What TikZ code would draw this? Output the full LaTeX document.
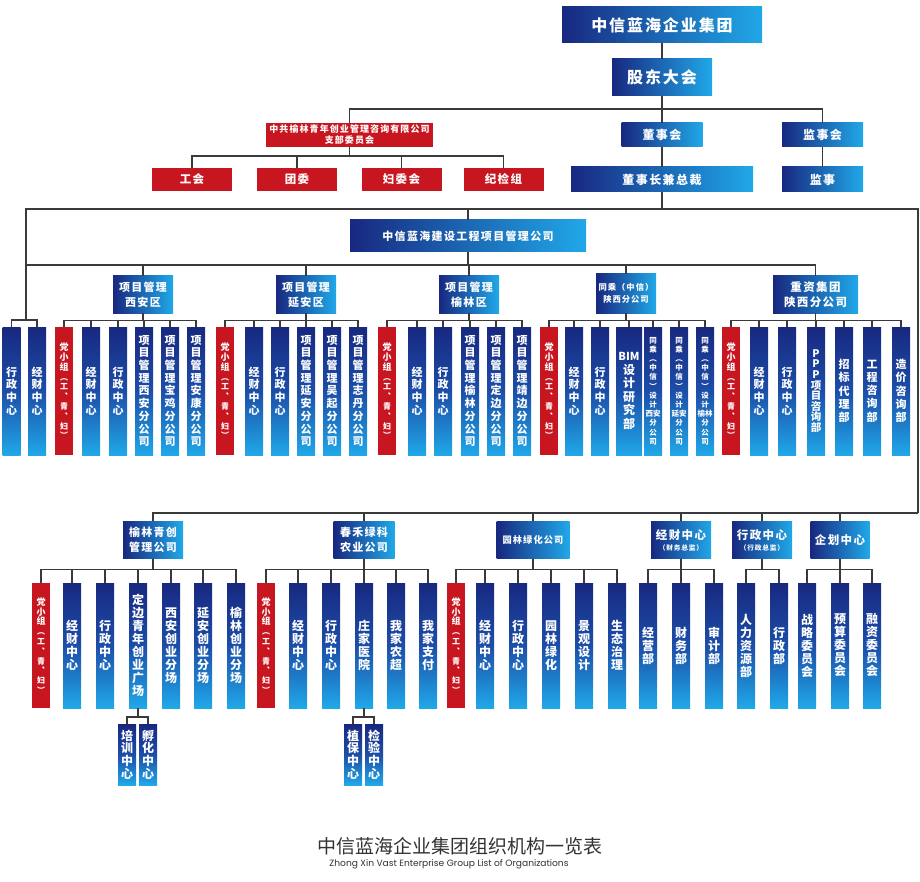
\documentclass[tikz,border=0pt]{standalone}
\usepackage{fontspec}
\newfontfamily\cjk{Noto Sans CJK SC}
\newfontfamily\cjks{Noto Sans CJK SC}[LetterSpace=12]
\newfontfamily\enfont{Poppins}
\definecolor{bd}{RGB}{24,40,128}
\definecolor{bm}{RGB}{28,78,168}
\definecolor{bl}{RGB}{32,168,232}
\definecolor{rd}{RGB}{200,22,32}
\definecolor{ln}{RGB}{58,58,58}
\definecolor{tt}{RGB}{50,50,50}

% 竖排文字：每个字（或花括号组）占一行
\let\vtend\relax
\newcommand\vt[1]{\expandafter\vtgo\expandafter{#1}}
\newcommand\vtgo[1]{\vbox{\lineskiplimit=-\maxdimen\vtstep#1\vtend}}
\newcommand\vtstep[1]{\ifx\vtend#1\else\hbox to 0pt{\hss#1\hss}\expandafter\vtstep\fi}
\newcommand\smr{\fontsize{8}{8}\selectfont}
\newcommand\dxz{党小组{\smr ︵}{\smr 工}{\smr ︑}{\smr 青}{\smr ︑}{\smr 妇}{\smr ︶}}
\newcommand\bfs[2]{\cjks\bfseries\fontsize{#1}{#2}\selectfont}

\tikzset{
  link/.style={draw=ln, line width=1.4pt},
  hbar/.style={left color=bd, right color=bl, text=white, inner sep=0pt, align=center},
  rbar/.style={fill=rd, text=white, inner sep=0pt, align=center},
  vcol/.style={top color=bd, bottom color=bl, middle color=bm, text=white, inner sep=0pt, minimum width=18pt},
  topcol/.style={vcol, minimum height=128pt, font=\cjk\bfseries\fontsize{11}{12.7}\selectfont},
  tccol/.style={vcol, minimum height=128pt, font=\cjk\bfseries\fontsize{7.5}{9.2}\selectfont},
  botcol/.style={vcol, minimum height=125pt, font=\cjk\bfseries\fontsize{12}{13}\selectfont},
  subcol/.style={vcol, minimum height=61pt, font=\cjk\bfseries\fontsize{12}{12.6}\selectfont},
  rcol/.style={fill=rd, text=white, inner sep=0pt, minimum width=18pt, font=\cjk\bfseries\fontsize{9}{9.8}\selectfont},
}

\begin{document}
\begin{tikzpicture}[x=1pt, y=-1pt]
  \useasboundingbox (0,0) rectangle (920,882);

  % --- 集团 / 股东大会 / 董事会 ---
  \node[hbar, minimum width=200pt, minimum height=36pt, font=\bfs{16}{16}] (grp) at (662,25) {中信蓝海企业集团};
  \node[hbar, minimum width=100pt, minimum height=37pt, font=\bfs{16}{16}] (gd) at (662,77.5) {股东大会};
  \node[hbar, minimum width=81pt, minimum height=24pt, font=\bfs{12}{12}] (dsh) at (662,135) {董事会};
  \node[hbar, minimum width=81pt, minimum height=24pt, font=\bfs{12}{12}] (jsh) at (822.5,135) {监事会};
  \node[hbar, minimum width=182pt, minimum height=25pt, font=\bfs{12}{12}] (dz) at (662,179.5) {董事长兼总裁};
  \node[hbar, minimum width=81pt, minimum height=25pt, font=\bfs{12}{12}] (js) at (822.5,179.5) {监事};
  \coordinate (gdb) at (662,109);
  \draw[link] (grp.south) -- (gd.north);
  \draw[link] (gd.south) -- (gdb);
  \draw[link] (gdb) -- (dsh.north);
  \draw[link] (gdb) -| (jsh.north);
  \draw[link] (dsh.south) -- (dz.north);
  \draw[link] (jsh.south) -- (js.north);

  % 党支部 (红色)
  \node[rbar, minimum width=167pt, minimum height=24pt, font=\bfs{9}{11}] (dw) at (349.5,135) {中共榆林青年创业管理咨询有限公司\\支部委员会};
  \coordinate (dwb) at (349.5,156);
  \foreach \i/\x/\lbl in {1/192/工会,2/297/团委,3/401.5/妇委会,4/503.5/纪检组}
    \node[rbar, minimum width=80pt, minimum height=23pt, font=\bfs{11.5}{12}] (dw\i) at (\x,179.5) {\lbl};
  \draw[link] (gdb) -| (dw.north);
  \draw[link] (dw.south) -- (dwb);
  \foreach \i in {1,...,4} \draw[link] (dwb) -| (dw\i.north);

  % --- 董事长兼总裁以下 ---
  \coordinate (dzb) at (662,209);
  \coordinate (lb) at (26,320);
  \coordinate (rb) at (918,513);
  \node[hbar, minimum width=236pt, minimum height=32pt, font=\bfs{11}{11}] (jsgs) at (468,236) {中信蓝海建设工程项目管理公司};
  \draw[link] (dz.south) -- (dzb);
  \draw[link] (dzb) -| (jsgs.north);
  \draw[link] (dzb) -| (lb);
  \draw[link] (dzb) -| (rb);

  % 左侧 行政中心 / 经财中心
  \node[topcol] (lx1) at (11.5,391) {\vt{行政中心}};
  \node[topcol] (lx2) at (37,391) {\vt{经财中心}};
  \foreach \i in {1,2} \draw[link] (lb) -| (lx\i.north);

  % 五个分公司
  \coordinate (jsb) at (468,265);
  \draw[link] (jsgs.south) -- (jsb);
  \draw[link] (jsb) -| (lb);
  \node[hbar, minimum width=60pt, minimum height=37pt, font=\bfs{11}{15}] (xa) at (143,294.5) {项目管理\\西安区};
  \node[hbar, minimum width=60pt, minimum height=37pt, font=\bfs{11}{15}] (ya) at (306,294.5) {项目管理\\延安区};
  \node[hbar, minimum width=60pt, minimum height=37pt, font=\bfs{11}{15}] (yl) at (469,294.5) {项目管理\\榆林区};
  \node[hbar, minimum width=60pt, minimum height=39pt, font=\bfs{8.3}{12}] (tc) at (626,293.5) {同乘（中信）\\陕西分公司};
  \node[hbar, minimum width=85pt, minimum height=37pt, font=\bfs{11.5}{14.5}] (zz) at (815.5,294.5) {重资集团\\陕西分公司};
  \foreach \g in {xa,ya,yl,tc,zz} {
    \draw[link] (jsb) -| (\g.north);
    \path (\g.south) ++(0,7) coordinate (\g b);
    \draw[link] (\g.south) -- (\g b);
  }

  % 西安区
  \node[rcol, minimum height=128pt] (xa1) at (64,391) {\vt{\dxz}};
  \foreach \i/\x/\lbl in {2/91/经财中心,3/118/行政中心,4/144/项目管理西安分公司,5/170/项目管理宝鸡分公司,6/196/项目管理安康分公司}
    \node[topcol] (xa\i) at (\x,391) {\vt{\lbl}};
  \foreach \i in {1,...,6} \draw[link] (xab) -| (xa\i.north);

  % 延安区
  \node[rcol, minimum height=128pt] (ya1) at (225,391) {\vt{\dxz}};
  \foreach \i/\x/\lbl in {2/254/经财中心,3/280/行政中心,4/306/项目管理延安分公司,5/332/项目管理吴起分公司,6/358/项目管理志丹分公司}
    \node[topcol] (ya\i) at (\x,391) {\vt{\lbl}};
  \foreach \i in {1,...,6} \draw[link] (yab) -| (ya\i.north);

  % 榆林区
  \node[rcol, minimum height=128pt] (yl1) at (387,391) {\vt{\dxz}};
  \foreach \i/\x/\lbl in {2/417/经财中心,3/443/行政中心,4/470/项目管理榆林分公司,5/496/项目管理定边分公司,6/522/项目管理靖边分公司}
    \node[topcol] (yl\i) at (\x,391) {\vt{\lbl}};
  \foreach \i in {1,...,6} \draw[link] (ylb) -| (yl\i.north);

  % 同乘(中信)
  \node[rcol, minimum height=128pt] (tc1) at (549,391) {\vt{\dxz}};
  \node[topcol] (tc2) at (574,391) {\vt{经财中心}};
  \node[topcol] (tc3) at (600,391) {\vt{行政中心}};
  \node[topcol, minimum width=26pt, font=\cjk\bfseries\fontsize{12}{13.5}\selectfont] (tc4) at (629,391) {\vt{{\fontsize{11}{11}\selectfont BIM}设计研究部}};
  \foreach \i/\x/\lbl in {5/653/西安,6/679/延安,7/705/榆林}
    \node[tccol] (tc\i) at (\x,391) {\vt{同乘︵中信︶设计\lbl 分公司}};
  \foreach \i in {1,...,7} \draw[link] (tcb) -| (tc\i.north);

  % 重资集团
  \node[rcol, minimum height=128pt] (zz1) at (731,391) {\vt{\dxz}};
  \node[topcol] (zz2) at (759,391) {\vt{经财中心}};
  \node[topcol] (zz3) at (787,391) {\vt{行政中心}};
  \node[topcol, font=\cjk\bfseries\fontsize{10.5}{10.6}\selectfont] (zz4) at (816,391) {\vt{PPP项目咨询部}};
  \foreach \i/\x/\lbl in {5/844/招标代理部,6/872/工程咨询部,7/901/造价咨询部}
    \node[topcol, font=\cjk\bfseries\fontsize{11}{13.3}\selectfont] (zz\i) at (\x,391) {\vt{\lbl}};
  \foreach \i in {1,...,7} \draw[link] (zzb) -| (zz\i.north);

  % --- 下层公司与中心 ---
  \node[hbar, minimum width=60pt, minimum height=37pt, font=\bfs{11}{15}] (qc) at (153,540) {榆林青创\\管理公司};
  \node[hbar, minimum width=61pt, minimum height=37pt, font=\bfs{11}{15}] (ch) at (364,540) {春禾绿科\\农业公司};
  \node[hbar, minimum width=73pt, minimum height=37pt, font=\bfs{9.2}{10}] (yh) at (533,540) {园林绿化公司};
  \node[hbar, minimum width=60pt, minimum height=37pt, font=\bfs{11.5}{11}] (jc) at (681,540) {经财中心\\{\fontsize{6.7}{7}\selectfont（财务总监）}};
  \node[hbar, minimum width=60pt, minimum height=37pt, font=\bfs{11.5}{11}] (xz) at (762,540) {行政中心\\{\fontsize{6.7}{7}\selectfont（行政总监）}};
  \node[hbar, minimum width=59pt, minimum height=37pt, font=\bfs{11.5}{11}] (qh) at (840,540) {企划中心};
  \foreach \g in {qc,ch,yh,jc,xz,qh} {
    \draw[link] (rb) -| (\g.north);
    \path (\g.south) ++(0,11) coordinate (\g b);
    \draw[link] (\g.south) -- (\g b);
  }

  % 榆林青创
  \node[rcol, minimum height=125pt] (qc1) at (41,645.5) {\vt{\dxz}};
  \foreach \i/\x/\lbl in {2/72/经财中心,3/105/行政中心,4/138/定边青年创业广场,5/171/西安创业分场,6/203/延安创业分场,7/236/榆林创业分场}
    \node[botcol] (qc\i) at (\x,645.5) {\vt{\lbl}};
  \foreach \i in {1,...,7} \draw[link] (qcb) -| (qc\i.north);
  \coordinate (qc4b) at (138,717);
  \node[subcol] (qs1) at (127,754.5) {\vt{培训中心}};
  \node[subcol] (qs2) at (148,754.5) {\vt{孵化中心}};
  \draw[link] (qc4.south) -- (qc4b);
  \foreach \i in {1,2} \draw[link] (qc4b) -| (qs\i.north);

  % 春禾绿科
  \node[rcol, minimum height=125pt] (ch1) at (266,645.5) {\vt{\dxz}};
  \foreach \i/\x/\lbl in {2/298/经财中心,3/331/行政中心,4/364/庄家医院,5/396/我家农超,6/428/我家支付}
    \node[botcol] (ch\i) at (\x,645.5) {\vt{\lbl}};
  \foreach \i in {1,...,6} \draw[link] (chb) -| (ch\i.north);
  \coordinate (ch4b) at (364,717);
  \node[subcol] (cs1) at (353,754.5) {\vt{植保中心}};
  \node[subcol] (cs2) at (374,754.5) {\vt{检验中心}};
  \draw[link] (ch4.south) -- (ch4b);
  \foreach \i in {1,2} \draw[link] (ch4b) -| (cs\i.north);

  % 园林绿化
  \node[rcol, minimum height=125pt] (yh1) at (456,645.5) {\vt{\dxz}};
  \foreach \i/\x/\lbl in {2/485/经财中心,3/518/行政中心,4/551/园林绿化,5/584/景观设计,6/617/生态治理}
    \node[botcol] (yh\i) at (\x,645.5) {\vt{\lbl}};
  \foreach \i in {1,...,6} \draw[link] (yhb) -| (yh\i.north);

  % 经财 / 行政 / 企划
  \foreach \i/\x/\lbl in {1/648/经营部,2/681/财务部,3/714/审计部}
    \node[botcol] (jc\i) at (\x,645.5) {\vt{\lbl}};
  \foreach \i in {1,...,3} \draw[link] (jcb) -| (jc\i.north);
  \foreach \i/\x/\lbl in {1/746/人力资源部,2/779/行政部}
    \node[botcol] (xz\i) at (\x,645.5) {\vt{\lbl}};
  \foreach \i in {1,2} \draw[link] (xzb) -| (xz\i.north);
  \foreach \i/\x/\lbl in {1/807/战略委员会,2/840/预算委员会,3/872/融资委员会}
    \node[botcol] (qh\i) at (\x,645.5) {\vt{\lbl}};
  \foreach \i in {1,...,3} \draw[link] (qhb) -| (qh\i.north);

  % 标题
  \node[text=tt, inner sep=0pt, font=\cjk\fontsize{19}{19}\selectfont] (title) at (460,846) {中信蓝海企业集团组织机构一览表};
  \node[text=tt, inner sep=0pt, font=\enfont\fontsize{9.1}{9}\selectfont] (titleen) at (449,864) {Zhong Xin Vast Enterprise Group List of Organizations};
\end{tikzpicture}
\end{document}
